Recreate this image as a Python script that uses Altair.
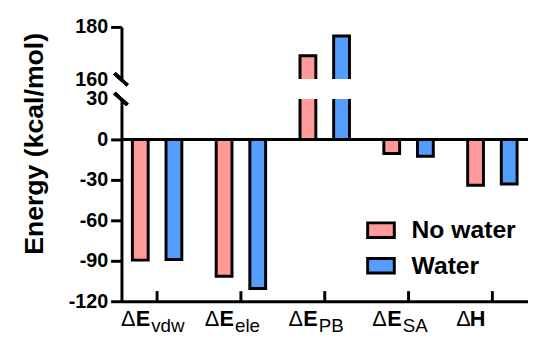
import altair as alt
import pandas as pd

terms = ["vdw", "ele", "PB", "SA", "H"]
letters = ["E", "E", "E", "E", "H"]
subs = ["vdw", "ele", "PB", "SA", ""]
groups = ["No water", "Water"]
no_water = [-89.5, -101.5, 169, -10.5, -34]
water = [-89, -110.5, 176.5, -12.5, -33]
colors = ["#FF9A9A", "#559CFF"]
y_ticks = [-120, -90, -60, -30, 0, 30, 160, 180]

W, H = 412, 278
Y30, Y160 = 73, 53
FONT = "Liberation Sans"

rows = []
for i, t in enumerate(terms):
    rows.append({"term": t, "group": groups[0], "value": no_water[i]})
    rows.append({"term": t, "group": groups[1], "value": water[i]})
df = pd.DataFrame(rows)
labels = pd.DataFrame({"term": terms, "letter": letters, "sub": subs, "delta": ["Δ"] * len(terms)})

xscale = alt.Scale(domain=terms, paddingInner=0.41, paddingOuter=0.13)
yscale = alt.Scale(domain=[-120, 30, 160, 180], range=[H, Y30, Y160, 0], nice=False, zero=False)

x_enc = alt.X("term:N", scale=xscale,
              axis=alt.Axis(title=None, labels=False, ticks=False,
                            domainColor="black", domainWidth=3, grid=False))
y_axis = alt.Axis(values=y_ticks, tickCount=20, title="Energy (kcal/mol)", grid=False, zindex=0,
                  domainColor="black", domainWidth=3, tickColor="black", tickWidth=3,
                  tickSize=11, labelFontSize=20, labelFontWeight="bold", labelColor="black",
                  labelPadding=3, labelOverlap=False, labelFlush=False,
                  labelExpr="datum.value < 0 ? '-' + abs(datum.value) : '' + datum.value",
                  tickOpacity={"condition": {"test": "datum.value == 30 || datum.value == 160", "value": 0}, "value": 1},
                  titleFontSize=27, titleFontWeight="bold", titleColor="black",
                  titleX=-88, titleY=118, titleAlign="center", titleBaseline="middle")

bars = alt.Chart(df).mark_bar(stroke="black", strokeWidth=3).encode(
    x=x_enc,
    xOffset=alt.XOffset("group:N", scale=alt.Scale(domain=groups, paddingInner=0.53, paddingOuter=0.0)),
    y=alt.Y("value:Q", scale=yscale, axis=y_axis),
    color=alt.Color("group:N", title=None, scale=alt.Scale(domain=groups, range=colors),
                    legend=alt.Legend(orient="none", legendX=248, legendY=191,
                                      symbolType="M-1,-0.55L1,-0.55L1,0.55L-1,0.55Z",
                                      symbolSize=729, symbolStrokeWidth=3,
                                      symbolStrokeColor="black", symbolOpacity=1,
                                      labelFontSize=25, labelFontWeight="bold",
                                      labelColor="black", labelOffset=16, rowPadding=7,
                                      padding=0)),
)

zero = alt.Chart(df).mark_rule(color="black", strokeWidth=3).encode(y=alt.datum(0))

gap = alt.Chart(df).mark_rect(color="white", opacity=1).encode(
    x=alt.value(-10), x2=alt.value(W), y=alt.datum(30), y2=alt.datum(160))

slash1 = alt.Chart(df).mark_rule(color="black", strokeWidth=3).encode(
    x=alt.value(-7), x2=alt.value(6), y=alt.value(Y160 - 6), y2=alt.value(Y160 + 6))
slash2 = alt.Chart(df).mark_rule(color="black", strokeWidth=3).encode(
    x=alt.value(-7), x2=alt.value(6), y=alt.value(Y30 - 6), y2=alt.value(Y30 + 6))

# inward tick marks of the category axis, placed through the x and y scales
xticks = alt.Chart(labels).mark_rule(color="black", strokeWidth=3).encode(
    x=alt.X("term:N", scale=xscale), y=alt.datum(-120), y2=alt.datum(-112.5))

t_delta = alt.Chart(labels).mark_text(align="right", baseline="alphabetic", dx=-22,
                                      fontSize=22, font=FONT, color="black").encode(
    x=alt.X("term:N", scale=xscale), y=alt.value(H + 25), text="delta:N")
t_letter = alt.Chart(labels).mark_text(align="right", baseline="alphabetic", dx=-7,
                                       fontSize=22, fontWeight="bold", font=FONT, color="black").encode(
    x=alt.X("term:N", scale=xscale), y=alt.value(H + 25), text="letter:N")
t_sub = alt.Chart(labels).mark_text(align="left", baseline="alphabetic", dx=-6,
                                    fontSize=19, font=FONT, color="black").encode(
    x=alt.X("term:N", scale=xscale), y=alt.value(H + 31), text="sub:N")

chart = alt.layer(bars, zero, gap, slash1, slash2, xticks, t_delta, t_letter, t_sub).properties(
    width=W, height=H,
    autosize=alt.AutoSizeParams(type="none"),
    padding={"left": 115, "top": 17, "right": 0, "bottom": 32},
).configure(font=FONT).configure_view(stroke=None)

chart.save("out.html", embed_options={"renderer": "svg", "actions": False})
